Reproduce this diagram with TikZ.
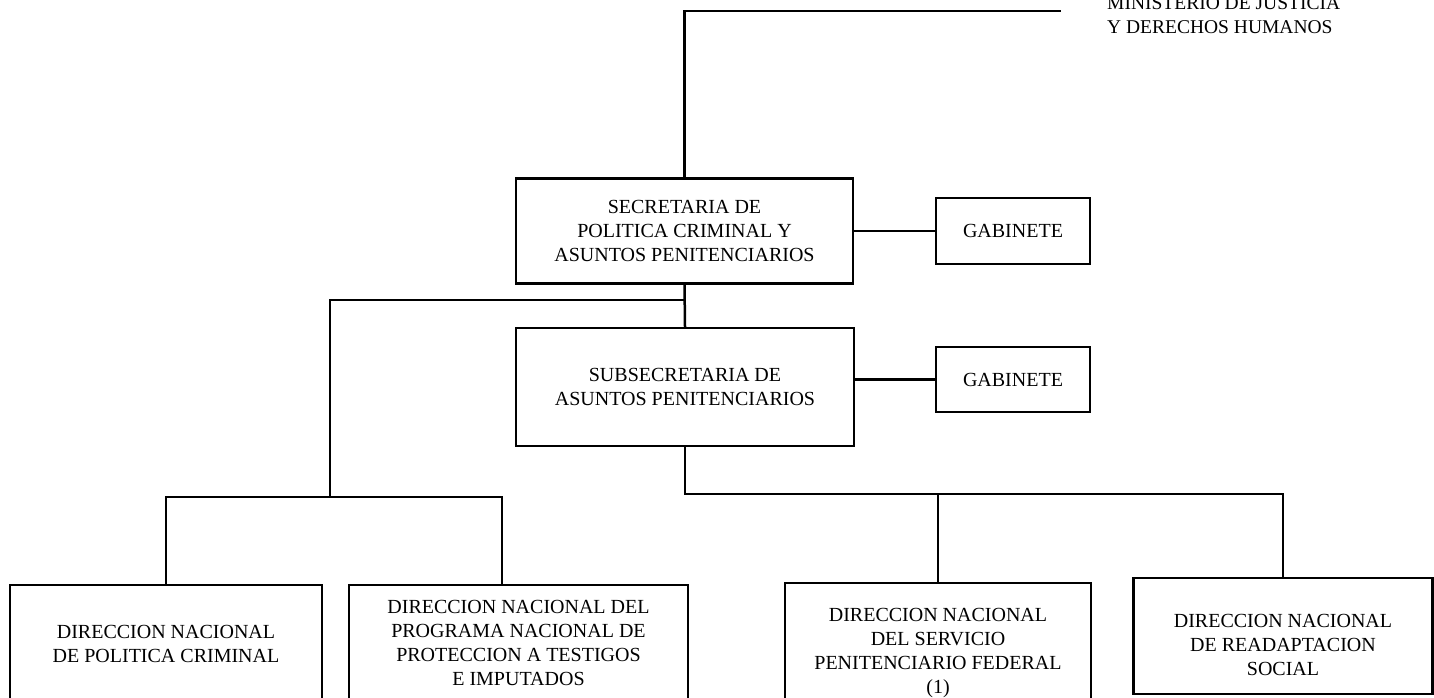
\documentclass[tikz,border=0pt]{standalone}
\usepackage{fontspec}
\setmainfont{Liberation Serif}
\begin{document}
\begin{tikzpicture}[x=1pt,y=-1pt,
  box/.style={draw, line width=2.3pt, align=center, inner sep=0pt,
    font=\fontsize{20}{24}\selectfont},
  boxtext/.style={align=center, inner sep=0pt, font=\fontsize{20}{24}\selectfont},
  conn/.style={line width=2.5pt, line cap=rect},
  mintext/.style={align=left, inner sep=0pt, font=\fontsize{19.5}{24}\selectfont}]
\useasboundingbox (0,0) rectangle (1434,697);
\clip (0,0) rectangle (1434,697);
\fill[white] (0,0) rectangle (1434,697);

% top text
\node[mintext, anchor=north west] (min) at (1107,-4) {MINISTERIO DE JUSTICIA\\Y DERECHOS HUMANOS};
\coordinate (minend) at (1060,11);

% main boxes
\node[box, minimum width=337pt, minimum height=105pt] (sec) at (684.5,231)
  {SECRETARIA DE\\POLITICA CRIMINAL Y\\ASUNTOS PENITENCIARIOS};
\node[box, minimum width=154pt, minimum height=66pt] (gab1) at (1013,231) {GABINETE};
\node[box, minimum width=338pt, minimum height=118pt] (sub) at (685,387)
  {SUBSECRETARIA DE\\ASUNTOS PENITENCIARIOS};
\node[box, minimum width=154pt, minimum height=65pt] (gab2) at (1013,379.5) {GABINETE};

% bottom boxes
\node[box, minimum width=312pt, minimum height=118pt] (b1) at (166,644)
  {DIRECCION NACIONAL\\DE POLITICA CRIMINAL};
\node[box, minimum width=339pt, minimum height=116pt] (b2) at (518.5,643)
  {DIRECCION NACIONAL DEL\\PROGRAMA NACIONAL DE\\PROTECCION A TESTIGOS\\E IMPUTADOS};
\node[box, minimum width=306pt, minimum height=140pt] (b3) at (938,653)
  {DIRECCION NACIONAL\\DEL SERVICIO\\PENITENCIARIO FEDERAL\\(1)};
\node[box, minimum width=299pt, minimum height=116pt] (b4) at (1283,636) {};
\node[boxtext] (b4t) at (1283,645) {DIRECCION NACIONAL\\DE READAPTACION\\SOCIAL};

% junction coordinates
\coordinate (j1) at (684.5,300);
\coordinate (lj) at (330,497);
\coordinate (d2) at (502,585);
\coordinate (rj) at (685,494);

% connectors
\draw[conn] (sec.north) |- (minend);
\draw[conn] (gab1.west) -- (gab1.west -| sec.east);
\draw[conn] (gab2.west) -- (gab2.west -| sub.east);
\draw[conn] (sec.south) -- (sub.north);
\draw[conn] (j1) -| (lj);
\draw[conn] (b1.north) -- (b1.north |- lj) -- (d2 |- lj) -- (d2);
\draw[conn] (sub.south) -- (sub.south |- rj) -| (b4.north);
\draw[conn] (b3.north) -- (b3.north |- rj);
\end{tikzpicture}
\end{document}
